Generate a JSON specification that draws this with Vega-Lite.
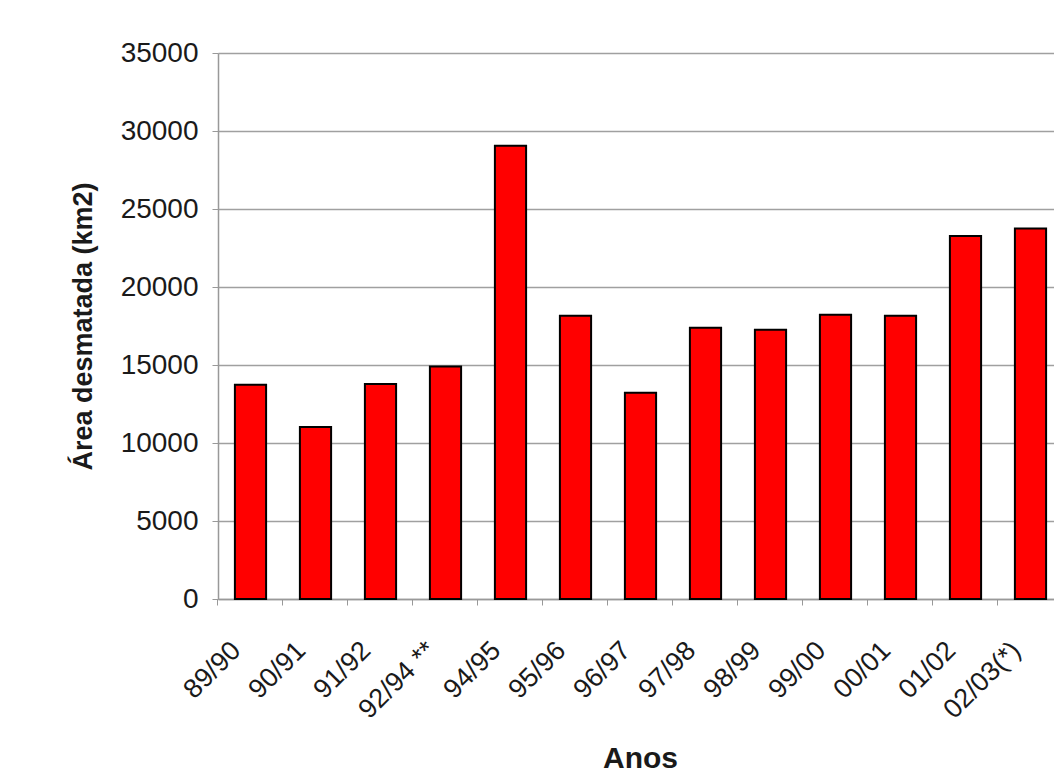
{
  "$schema": "https://vega.github.io/schema/vega-lite/v6.json",
  "width": 836,
  "height": 546,
  "autosize": "none",
  "padding": {"left": 218, "top": 53, "right": 0, "bottom": 175},
  "background": "white",
  "config": {"view": {"stroke": null}, "font": "Liberation Sans"},
  "data": {
    "values": [
      {"ano": "89/90", "area": 13730},
      {"ano": "90/91", "area": 11030},
      {"ano": "91/92", "area": 13786},
      {"ano": "92/94 **", "area": 14896},
      {"ano": "94/95", "area": 29059},
      {"ano": "95/96", "area": 18161},
      {"ano": "96/97", "area": 13227},
      {"ano": "97/98", "area": 17383},
      {"ano": "98/99", "area": 17259},
      {"ano": "99/00", "area": 18226},
      {"ano": "00/01", "area": 18165},
      {"ano": "01/02", "area": 23266},
      {"ano": "02/03(*)", "area": 23750}
    ]
  },
  "mark": {"type": "bar", "fill": "#ff0000", "stroke": "#000000", "strokeWidth": 2},
  "encoding": {
    "x": {
      "field": "ano",
      "type": "nominal",
      "sort": null,
      "scale": {"paddingInner": 0.52, "paddingOuter": 0.26, "range": [0, 845]},
      "axis": {
        "title": "Anos",
        "titleFontSize": 30,
        "titleFontWeight": "bold",
        "titleColor": "#1a1a1a",
        "titleX": 422,
        "titleY": 168,
        "titleBaseline": "alphabetic",
        "titleAlign": "center",
        "labelAngle": -45,
        "labelAlign": "right",
        "labelBaseline": "middle",
        "labelFontSize": 27,
        "labelColor": "#1a1a1a",
        "labelOffset": -14,
        "labelPadding": 41,
        "labelOverlap": false,
        "labelBound": false,
        "tickSize": 6,
        "tickColor": "#999999",
        "domainColor": "#999999",
        "domainWidth": 1.5,
        "bandPosition": -0.545,
        "grid": false
      }
    },
    "y": {
      "field": "area",
      "type": "quantitative",
      "scale": {"domain": [0, 35000], "nice": false},
      "axis": {
        "values": [0, 5000, 10000, 15000, 20000, 25000, 30000, 35000],
        "format": "d",
        "grid": true,
        "gridColor": "#a0a0a0",
        "gridWidth": 1.5,
        "domainColor": "#999999",
        "domainWidth": 1.5,
        "tickColor": "#999999",
        "tickSize": 6,
        "labelFontSize": 28,
        "labelColor": "#1a1a1a",
        "labelPadding": 14,
        "title": "Área desmatada (km2)",
        "titleFontSize": 27,
        "titleFontWeight": "bold",
        "titleColor": "#1a1a1a",
        "titleX": -135,
        "titleY": 273,
        "titleAngle": -90,
        "titleBaseline": "middle",
        "titleAlign": "center"
      }
    }
  }
}
